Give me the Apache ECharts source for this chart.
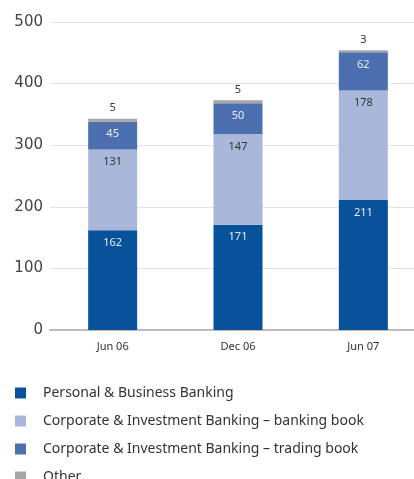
<!DOCTYPE html>
<html><head><meta charset="utf-8">
<script src="https://cdn.jsdelivr.net/npm/echarts@6/dist/echarts.min.js"></script>
<style>html,body{margin:0;padding:0;background:#fff}#c{width:414px;height:479px}</style>
</head><body><div id="c"></div>
<script>
const categories = ['Jun 06', 'Dec 06', 'Jun 07'];
const personal = [162, 171, 211];
const cibBanking = [131, 147, 178];
const cibTrading = [45, 50, 62];
const other = [5, 5, 3];
const seriesNames = ['Personal & Business Banking', 'Corporate & Investment Banking \u2013 banking book', 'Corporate & Investment Banking \u2013 trading book', 'Other'];
const yTicks = [0, 100, 200, 300, 400, 500];

const colors = ['#08519b', '#a9b8da', '#4c6fb0', '#a6a6a6'];
const labelFont = 'Noto Sans';
function inner(color) {
  return { show: true, position: 'insideTop', distance: 7, color: color, fontSize: 11, fontFamily: labelFont };
}
const chart = echarts.init(document.getElementById('c'));
chart.setOption({
  animation: false,
  color: colors,
  grid: { left: 50, width: 376, top: 22, bottom: 149, outerBoundsMode: 'none', containLabel: false },
  legend: {
    orient: 'vertical', left: 10, top: 381, height: 300, itemWidth: 11, itemHeight: 11, itemGap: 14,
    icon: 'rect',
    textStyle: { fontSize: 14, color: '#333', fontFamily: labelFont, padding: [0, 0, 0, 12] },
    data: seriesNames
  },
  xAxis: {
    type: 'category', data: categories,
    axisLine: { lineStyle: { color: '#bdbdbd', width: 2 } },
    axisTick: { show: false },
    axisLabel: { color: '#333', fontSize: 11, margin: 11, fontFamily: labelFont }
  },
  yAxis: {
    type: 'value', min: yTicks[0], max: yTicks[yTicks.length - 1], interval: 100,
    axisLine: { show: false }, axisTick: { show: false },
    splitLine: { lineStyle: { color: '#e3e3e3', width: 1 } },
    axisLabel: { color: '#444', fontSize: 15, margin: 7, lineHeight: 18, padding: [0, 0, 6, 0], fontFamily: 'DejaVu Sans' }
  },
  series: [
    { name: seriesNames[0], type: 'bar', stack: 't', barWidth: 49, data: personal, label: inner('#e8eef8') },
    { name: seriesNames[1], type: 'bar', stack: 't', data: cibBanking, label: inner('#333') },
    { name: seriesNames[2], type: 'bar', stack: 't', data: cibTrading, label: inner('#e8eef8') },
    { name: seriesNames[3], type: 'bar', stack: 't', data: other,
      label: { show: true, position: 'top', distance: 5, color: '#333', fontSize: 11, fontFamily: labelFont } }
  ]
});
</script></body></html>
